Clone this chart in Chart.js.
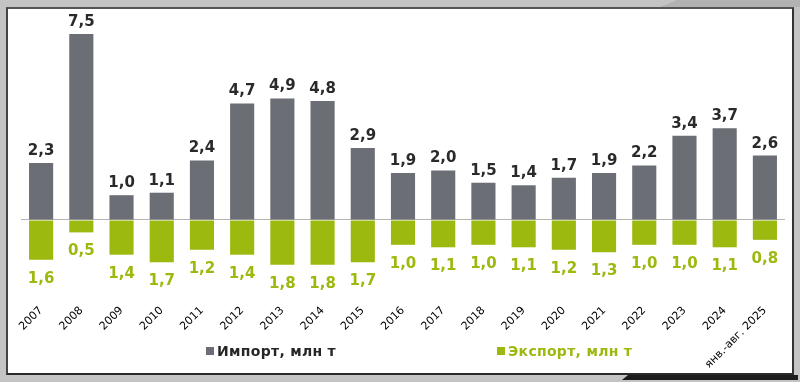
<!DOCTYPE html>
<html>
<head>
<meta charset="utf-8">
<script src="https://cdn.jsdelivr.net/npm/chart.js@4/dist/chart.umd.min.js"></script>
<style>
  html,body{margin:0;padding:0;}
  body{width:800px;height:382px;background:#c4c4c4;position:relative;overflow:hidden;font-family:"DejaVu Sans",Verdana,sans-serif;}
  #topdark{position:absolute;left:0;top:0;width:800px;height:7px;background:#b2b2b2;clip-path:polygon(677px 0,800px 0,800px 7px,660px 7px);}
  #botdark{position:absolute;left:0;top:375px;width:798px;height:5px;background:#1c1c1c;clip-path:polygon(628px 0,798px 0,798px 5px,622px 5px);}
  #panel{position:absolute;left:6px;top:7px;width:784px;height:364px;background:#fff;border-top:2px solid #555;border-left:2px solid #444;border-right:2px solid #333;border-bottom:2px solid #2a2a2a;}
  #c{position:absolute;left:0;top:0;}
  .lg{position:absolute;top:343px;height:16px;line-height:16px;font-weight:bold;font-size:14px;letter-spacing:0.3px;font-family:"DejaVu Sans",sans-serif;white-space:nowrap;}
  .sq{position:absolute;top:347px;width:8px;height:8px;}
</style>
</head>
<body>
<div id="topdark"></div>
<div id="botdark"></div>
<div id="panel"></div>
<canvas id="c" width="800" height="382"></canvas>
<div class="sq" style="left:206px;background:#6b6e75"></div>
<div class="lg" style="left:217px;color:#262626">Импорт, млн т</div>
<div class="sq" style="left:497px;background:#9bb90f"></div>
<div class="lg" style="left:508px;color:#9bb90f">Экспорт, млн т</div>
<script>
const categories = ["2007","2008","2009","2010","2011","2012","2013","2014","2015","2016","2017","2018","2019","2020","2021","2022","2023","2024","янв.-авг. 2025"];
const importValues = [2.3,7.5,1.0,1.1,2.4,4.7,4.9,4.8,2.9,1.9,2.0,1.5,1.4,1.7,1.9,2.2,3.4,3.7,2.6];
const exportValues = [1.6,0.5,1.4,1.7,1.2,1.4,1.8,1.8,1.7,1.0,1.1,1.0,1.1,1.2,1.3,1.0,1.0,1.1,0.8];
const seriesNames = ["Импорт, млн т","Экспорт, млн т"];

const GRAY = "#6b6e75";
const GREEN = "#9bb90f";

const fmt = v => v.toFixed(1).replace(".", ",");

const labelPlugin = {
  id: "valueLabels",
  afterDatasetsDraw(chart) {
    const ctx = chart.ctx;
    ctx.save();
    ctx.font = "bold 15px 'DejaVu Sans'";
    ctx.textAlign = "center";
    ctx.textBaseline = "alphabetic";
    const m0 = chart.getDatasetMeta(0);
    m0.data.forEach((bar, i) => {
      ctx.fillStyle = "#2a2a2a";
      ctx.fillText(fmt(importValues[i]), bar.x, bar.y - 8);
    });
    const m1 = chart.getDatasetMeta(1);
    m1.data.forEach((bar, i) => {
      ctx.fillStyle = GREEN;
      ctx.fillText(fmt(exportValues[i]), bar.x, bar.y + 23);
    });
    ctx.restore();
  }
};

new Chart(document.getElementById("c"), {
  type: "bar",
  data: {
    labels: categories,
    datasets: [
      { label: seriesNames[0], data: importValues, backgroundColor: GRAY, barPercentage: 0.6, categoryPercentage: 1.0, stack: "s" },
      { label: seriesNames[1], data: exportValues.map(v => -v), backgroundColor: GREEN, barPercentage: 0.6, categoryPercentage: 1.0, stack: "s" }
    ]
  },
  options: {
    responsive: false,
    animation: false,
    layout: { padding: { left: 21, right: 15, top: 10, bottom: 0 } },
    plugins: { legend: { display: false }, tooltip: { enabled: false } },
    scales: {
      x: {
        stacked: true,
        grid: { display: false },
        border: { display: false },
        ticks: { color: "#000", font: { family: "DejaVu Sans", size: 11 }, minRotation: 45, maxRotation: 45, padding: -4, autoSkip: false },
        afterFit(s) { s.height = 82; }
      },
      y: {
        stacked: true,
        min: -3.226,
        max: 8.468,
        border: { display: false },
        grid: { drawTicks: false, color: c => c.tick && c.tick.value === 0 ? "#b4b4b4" : "rgba(0,0,0,0)" },
        ticks: { display: false, stepSize: 1 },
        afterFit(s) { s.width = 0; }
      }
    }
  },
  plugins: [labelPlugin]
});
</script>
</body>
</html>
